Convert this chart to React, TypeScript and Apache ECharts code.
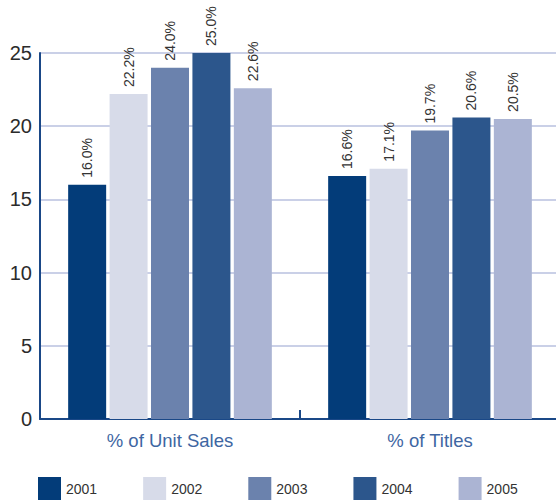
import React, { useEffect, useRef } from "react";
import * as echarts from "echarts";

const categories = ["% of Unit Sales", "% of Titles"];
const years = ["2001", "2002", "2003", "2004", "2005"];
const values2001 = [16.0, 16.6];
const values2002 = [22.2, 17.1];
const values2003 = [24.0, 19.7];
const values2004 = [25.0, 20.6];
const values2005 = [22.6, 20.5];
const yTicks = [0, 5, 10, 15, 20, 25];
const colors = ["#033c79", "#d7dbe9", "#6b82ad", "#2c568c", "#abb4d3"];

const FONT = "'Liberation Sans', Arial, Helvetica, sans-serif";

export default function App() {
  const ref = useRef<HTMLDivElement>(null);
  useEffect(() => {
    if (!ref.current) return;
    const chart = echarts.init(ref.current, null, { renderer: "svg" });
    const seriesData = [values2001, values2002, values2003, values2004, values2005];
    chart.setOption({
      animation: false,
      textStyle: { fontFamily: FONT },
      grid: { left: 40, right: 0, top: 53, bottom: 85, containLabel: false },
      legend: {
        left: 38,
        top: 477,
        padding: 0,
        itemWidth: 23,
        itemHeight: 23,
        itemGap: 46,
        icon: "rect",
        textStyle: { fontSize: 14, color: "#333", fontFamily: FONT, padding: [14, 0, 0, 0] },
        data: years,
      },
      xAxis: {
        type: "category",
        data: categories,
        axisLine: { lineStyle: { color: "#1a4887", width: 2 } },
        axisTick: { show: true, inside: true, length: 9, lineStyle: { color: "#1a4887", width: 2 } },
        axisLabel: { fontSize: 18.5, color: "#3e66a2", margin: 12, fontFamily: FONT },
      },
      yAxis: {
        type: "value",
        min: yTicks[0],
        max: yTicks[yTicks.length - 1],
        interval: 5,
        axisLine: { show: true, lineStyle: { color: "#1a4887", width: 2 } },
        axisTick: { show: false },
        axisLabel: { fontSize: 20, color: "#2b2b2b", margin: 8, fontFamily: FONT },
        splitLine: { lineStyle: { color: "#b9c1df", width: 1.5 } },
      },
      series: years.map((y, i) => ({
        name: y,
        type: "bar",
        data: seriesData[i],
        barWidth: 38,
        barGap: "9%",
        itemStyle: { color: colors[i] },
        label: {
          show: true,
          position: "top",
          rotate: 90,
          align: "left",
          verticalAlign: "middle",
          distance: 7,
          fontSize: 14,
          color: "#333",
          fontFamily: FONT,
          formatter: (p: any) => p.value.toFixed(1) + "%",
        },
      })),
    });
    return () => chart.dispose();
  }, []);
  return (
    <div style={{ position: "absolute", left: 0, top: 0, width: 556, height: 504, overflow: "hidden", background: "#fff" }}>
      <div ref={ref} style={{ width: 560, height: 504 }} />
    </div>
  );
}
